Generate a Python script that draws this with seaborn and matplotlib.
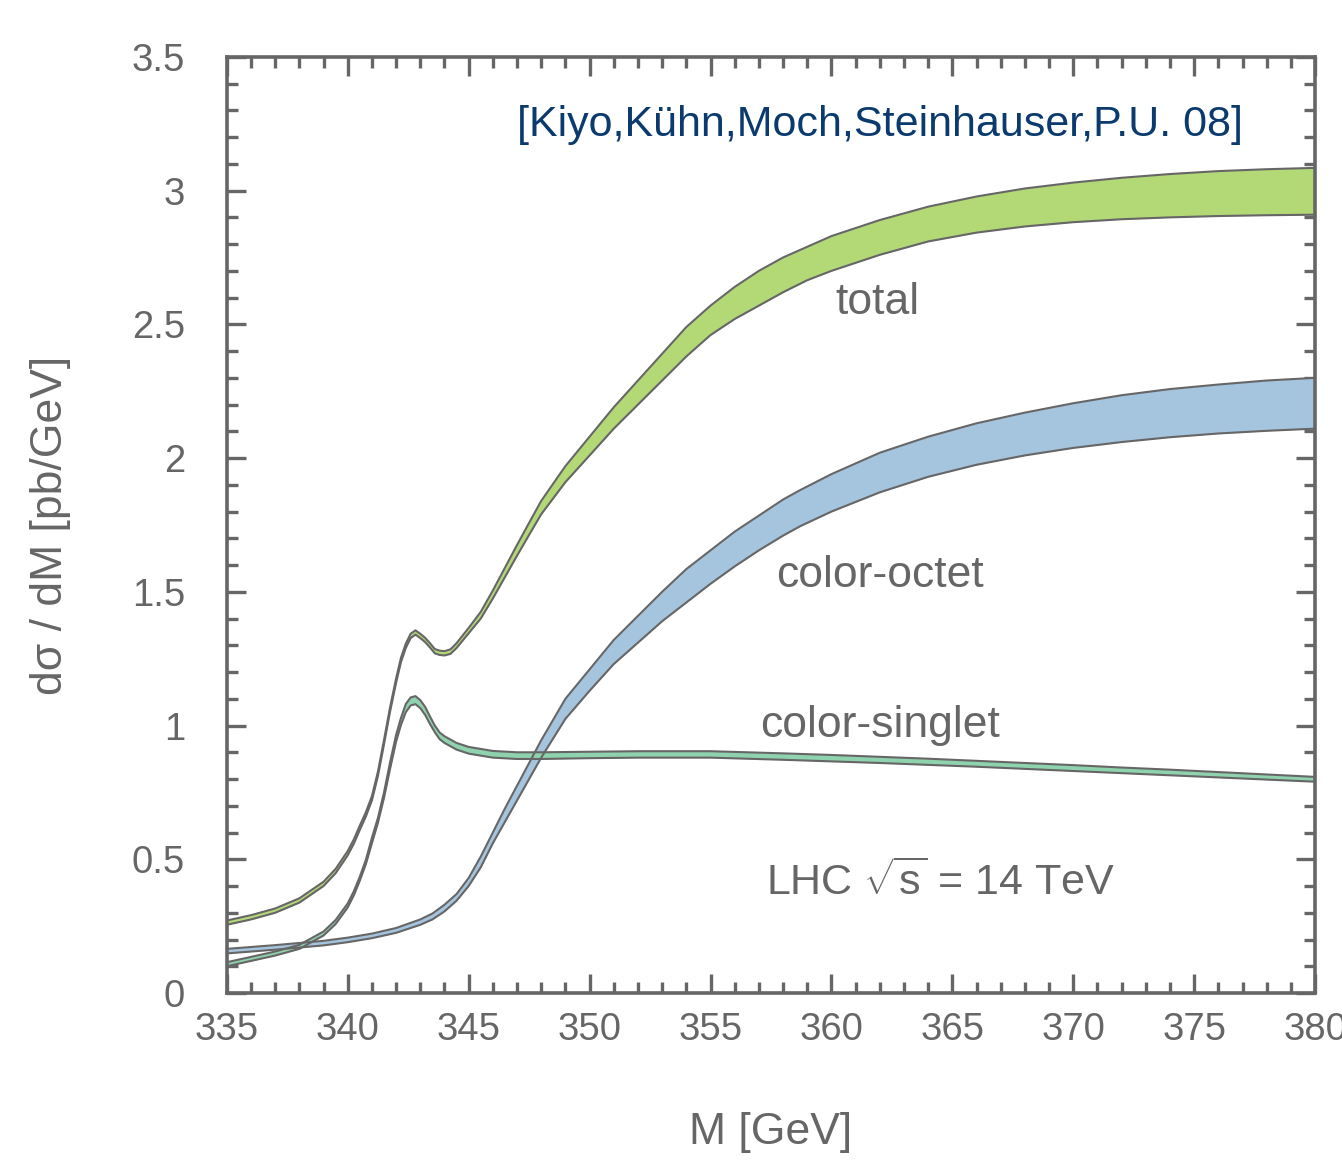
import numpy as np
import pandas as pd
import matplotlib
matplotlib.use("Agg")
import matplotlib.pyplot as plt
from matplotlib.ticker import MultipleLocator, FuncFormatter
import seaborn as sns

# values
total_x = [335, 336, 337, 338, 339, 339.5, 340, 340.25, 340.5, 340.75, 341, 341.25, 341.5, 341.75, 342,
           342.2, 342.4, 342.6, 342.8, 343.0, 343.2, 343.4, 343.6, 343.8, 344, 344.25, 344.5, 345,
           345.5, 346, 346.5, 347, 347.5, 348, 349, 350, 351, 352, 353, 354, 355, 356, 357, 358, 359,
           360, 362, 364, 366, 368, 370, 372, 374, 376, 378, 380]
total_lo = [0.255, 0.275, 0.300, 0.338, 0.400, 0.448, 0.515, 0.558, 0.610, 0.660, 0.720, 0.812, 0.930,
            1.052, 1.160, 1.237, 1.290, 1.327, 1.340, 1.327, 1.312, 1.292, 1.270, 1.264, 1.262, 1.268,
            1.290, 1.345, 1.400, 1.475, 1.555, 1.635, 1.713, 1.790, 1.910, 2.010, 2.110, 2.200, 2.290,
            2.380, 2.460, 2.520, 2.570, 2.620, 2.665, 2.700, 2.760, 2.810, 2.843, 2.866, 2.882, 2.893,
            2.900, 2.905, 2.908, 2.910]
total_hi = [0.271, 0.291, 0.316, 0.354, 0.416, 0.464, 0.531, 0.574, 0.626, 0.676, 0.736, 0.828, 0.946,
            1.068, 1.176, 1.253, 1.306, 1.343, 1.356, 1.343, 1.328, 1.308, 1.286, 1.280, 1.278, 1.285,
            1.308, 1.365, 1.425, 1.505, 1.590, 1.675, 1.758, 1.840, 1.970, 2.080, 2.190, 2.290, 2.390,
            2.490, 2.570, 2.640, 2.700, 2.750, 2.790, 2.830, 2.890, 2.940, 2.978, 3.008, 3.030, 3.048,
            3.062, 3.073, 3.080, 3.085]

octet_x = [335, 336, 337, 338, 339, 340, 341, 342, 343, 343.5, 344, 344.5, 345, 345.5, 346, 346.5,
           347, 347.5, 348, 349, 350, 351, 352, 353, 354, 355, 356, 357, 358, 358.7, 360, 362, 364,
           366, 368, 370, 372, 374, 376, 378, 380]
octet_lo = [0.148, 0.155, 0.162, 0.170, 0.178, 0.190, 0.205, 0.225, 0.255, 0.275, 0.305, 0.345, 0.400,
            0.470, 0.560, 0.640, 0.720, 0.800, 0.880, 1.025, 1.130, 1.230, 1.310, 1.390, 1.460, 1.530,
            1.595, 1.655, 1.710, 1.745, 1.800, 1.872, 1.930, 1.975, 2.010, 2.038, 2.060, 2.078, 2.092,
            2.102, 2.110]
octet_hi = [0.165, 0.172, 0.179, 0.187, 0.195, 0.207, 0.222, 0.243, 0.275, 0.297, 0.330, 0.370, 0.430,
            0.510, 0.600, 0.690, 0.775, 0.860, 0.945, 1.100, 1.210, 1.320, 1.410, 1.500, 1.585, 1.655,
            1.725, 1.785, 1.845, 1.880, 1.940, 2.020, 2.080, 2.130, 2.170, 2.205, 2.235, 2.258, 2.275,
            2.290, 2.300]

singlet_x = [335, 336, 337, 338, 339, 339.5, 340, 340.25, 340.5, 340.75, 341, 341.25, 341.5, 341.75,
             342, 342.2, 342.4, 342.6, 342.8, 343.0, 343.2, 343.4, 343.6, 343.8, 344, 344.5, 345, 346,
             347, 348, 350, 352, 355, 358, 360, 362, 364, 366, 368, 370, 372, 374, 376, 378, 380]
singlet_lo = [0.100, 0.120, 0.140, 0.165, 0.215, 0.258, 0.320, 0.365, 0.420, 0.482, 0.560, 0.637, 0.730,
              0.838, 0.940, 1.002, 1.050, 1.075, 1.080, 1.065, 1.040, 1.006, 0.975, 0.949, 0.935, 0.910,
              0.895, 0.880, 0.875, 0.875, 0.878, 0.880, 0.880, 0.872, 0.866, 0.860, 0.853, 0.846, 0.838,
              0.830, 0.822, 0.814, 0.806, 0.798, 0.790]
singlet_hi = [0.115, 0.135, 0.155, 0.180, 0.230, 0.273, 0.335, 0.380, 0.435, 0.498, 0.580, 0.655, 0.750,
              0.862, 0.965, 1.028, 1.080, 1.105, 1.110, 1.095, 1.070, 1.034, 1.000, 0.974, 0.960, 0.935,
              0.920, 0.905, 0.900, 0.900, 0.902, 0.904, 0.904, 0.896, 0.890, 0.883, 0.876, 0.868, 0.860,
              0.852, 0.843, 0.835, 0.826, 0.817, 0.808]

gray = "#666666"

sns.set_style("ticks")
plt.rcParams["font.family"] = ["Liberation Sans", "DejaVu Sans"]
plt.rcParams["mathtext.fontset"] = "custom"
plt.rcParams["mathtext.rm"] = "Liberation Sans"
plt.rcParams["mathtext.it"] = "Liberation Sans"

fig = plt.figure(figsize=(13.42, 11.61), dpi=100)
ax = fig.add_axes([0.169, 0.1447, 0.811, 0.8063])

bands = [
    ("color-octet", octet_x, octet_lo, octet_hi, "#a5c5df"),
    ("color-singlet", singlet_x, singlet_lo, singlet_hi, "#8fd3ae"),
    ("total", total_x, total_lo, total_hi, "#b3d977"),
]
for name, xs, lo, hi, col in bands:
    df = pd.DataFrame({"M": xs, "lo": lo, "hi": hi})
    ax.fill_between(df["M"], df["lo"], df["hi"], color=col, lw=0)
    sns.lineplot(data=df, x="M", y="lo", color=gray, lw=1.5, ax=ax)
    sns.lineplot(data=df, x="M", y="hi", color=gray, lw=1.5, ax=ax)

ax.set_xlim(335, 380)
ax.set_ylim(0, 3.5)

ax.xaxis.set_major_locator(MultipleLocator(5))
ax.xaxis.set_minor_locator(MultipleLocator(1))
ax.yaxis.set_major_locator(MultipleLocator(0.5))
ax.yaxis.set_minor_locator(MultipleLocator(0.1))
ax.yaxis.set_major_formatter(FuncFormatter(lambda v, p: "%g" % v))

ax.tick_params(which="both", direction="in", top=True, right=True, color=gray,
               width=2.4, labelcolor=gray, labelsize=27.5)
ax.tick_params(which="major", length=14)
ax.tick_params(which="minor", length=8)
ax.tick_params(axis="y", pad=30)
ax.tick_params(axis="x", pad=14)
for s in ax.spines.values():
    s.set_color(gray)
    s.set_linewidth(2.6)

ax.set_xlabel("M [GeV]", fontsize=32, color=gray, labelpad=46)
ax.set_ylabel("dσ / dM [pb/GeV]", fontsize=32, color=gray, labelpad=44)

ax.text(361.9, 2.58, "total", fontsize=32, color=gray, ha="center", va="center")
ax.text(362.0, 1.56, "color-octet", fontsize=32, color=gray, ha="center", va="center")
ax.text(362.0, 1.00, "color-singlet", fontsize=32, color=gray, ha="center", va="center")
ax.text(364.5, 0.415, r"LHC $\sqrt{\mathrm{s}}$ = 14 TeV", fontsize=31, color=gray,
        ha="center", va="center")
ax.text(362.0, 3.246, "[Kiyo,Kühn,Moch,Steinhauser,P.U. 08]", fontsize=31, color="#0a3a6e",
        ha="center", va="center", family=["Liberation Sans Narrow", "Liberation Sans"])

fig.savefig("out.png", dpi=100)
